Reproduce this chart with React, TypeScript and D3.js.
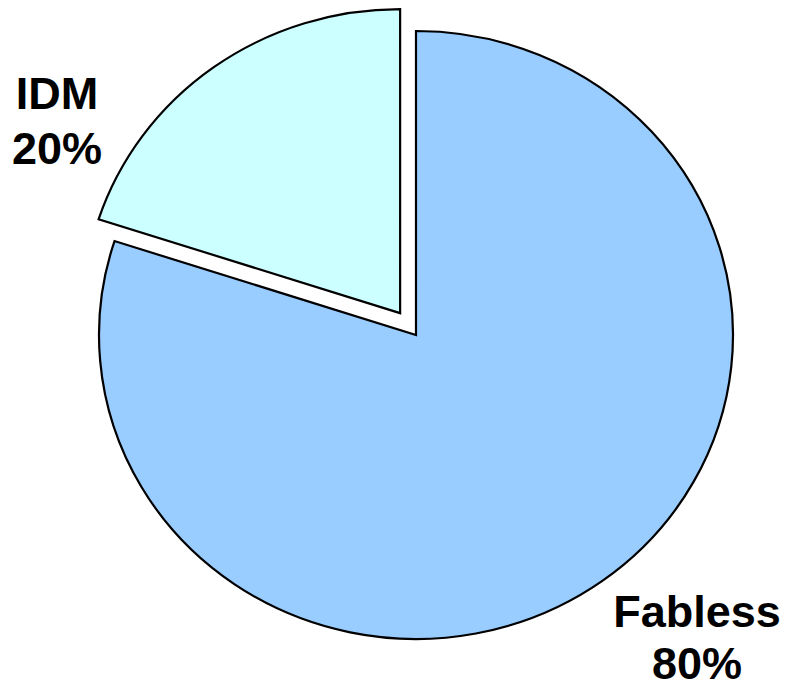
import React from "react";
import * as d3 from "d3";

const categories = ["Fabless", "IDM"];
const values = [80, 20];
const percentLabels = ["80%", "20%"];
const colors = ["#99CCFF", "#CCFFFF"];
const explode = [0, 27];

export default function App() {
  const W = 789, H = 688;
  const cx = 416, cy = 335;
  const ry = 304, rx = 317;
  const pie = d3.pie<number>().sort(null).value((d) => d).startAngle(0).endAngle(2 * Math.PI);
  const arcs = pie(values);
  const arcGen = d3.arc<d3.PieArcDatum<number>>().innerRadius(0).outerRadius(ry);
  const sx = rx / ry;
  const labelPos = [
    { x: 697, y: 627, gap: 52 },
    { x: 57, y: 109, gap: 55 },
  ];
  return (
    <svg width={W} height={H} style={{ position: "absolute", left: 0, top: 0, background: "#fff" }}>
      <g transform={`translate(${cx},${cy}) scale(${sx},1)`}>
        {arcs.map((a, i) => {
          const mid = (a.startAngle + a.endAngle) / 2;
          const dx = Math.sin(mid) * explode[i] / sx;
          const dy = -Math.cos(mid) * explode[i];
          return (
            <path
              key={categories[i]}
              d={arcGen(a) || ""}
              transform={`translate(${dx},${dy})`}
              fill={colors[i]}
              stroke="#000"
              strokeWidth={2.2}
              vectorEffect="non-scaling-stroke"
              strokeLinejoin="miter"
            />
          );
        })}
      </g>
      {categories.map((c, i) => (
        <text
          key={c}
          x={labelPos[i].x}
          y={labelPos[i].y}
          textAnchor="middle"
          fontFamily="Liberation Sans, Arial, sans-serif"
          fontWeight="bold"
          fontSize={45}
          fill="#000"
        >
          <tspan x={labelPos[i].x}>{c}</tspan>
          <tspan x={labelPos[i].x} dy={labelPos[i].gap}>{percentLabels[i]}</tspan>
        </text>
      ))}
    </svg>
  );
}
